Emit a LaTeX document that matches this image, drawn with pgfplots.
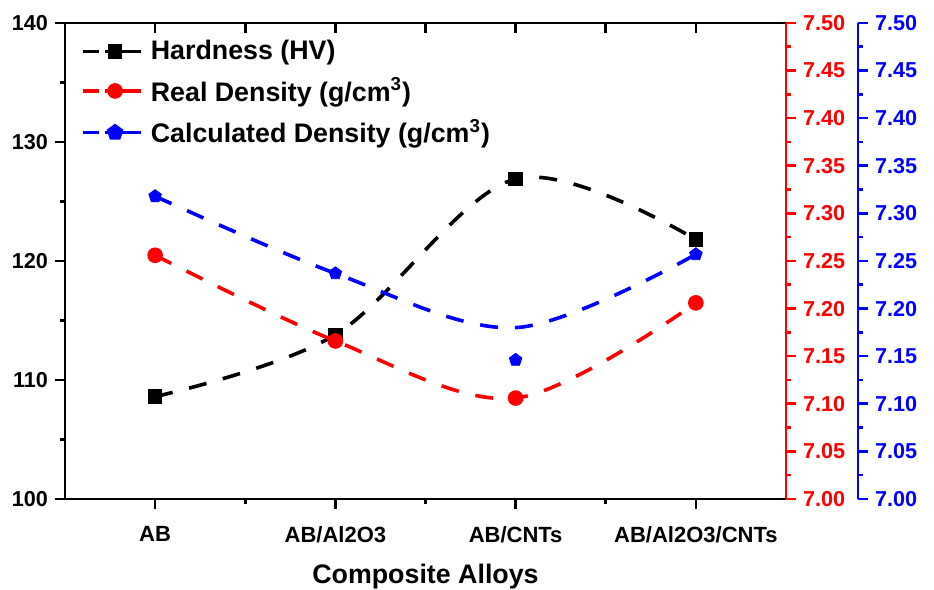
\documentclass[border=0pt]{standalone}
\usepackage{fontspec}
\setmainfont{Liberation Sans}
\usepackage{pgfplots}
\usepackage{pgfplotstable}
\pgfplotsset{compat=1.18}

% x: category index; calcline = where the fitted blue curve runs
\pgfplotstableread{
x hv    real  calc  calcline
0 108.6 7.256 7.318 7.318
1 113.8 7.166 7.237 7.237
2 126.9 7.106 7.146 7.180
3 121.8 7.206 7.257 7.257
}\alloys

\pgfplotsset{
  base/.style={
    scale only axis, width=360.5pt, height=238pt,
    xmin=-0.5, xmax=3.5,
    axis line style={line width=1.4pt},
    every tick/.style={line width=1.3pt},
    major tick length=5pt, minor tick length=2.5pt,
    ticklabel style={font=\bfseries\fontsize{10.8}{12}\selectfont},
    /pgf/number format/assume math mode=true,
  },
  dens/.style={
    ymin=7, ymax=7.5,
    ytick={7,7.05,7.1,7.15,7.2,7.25,7.3,7.35,7.4,7.45,7.5},
    minor ytick={7.025,7.075,7.125,7.175,7.225,7.275,7.325,7.375,7.425,7.475},
    yticklabel style={/pgf/number format/fixed,
      /pgf/number format/fixed zerofill,
      /pgf/number format/precision=2},
    axis x line=none, axis y line*=right, tick align=outside,
  },
  curve/.style={line width=1.8pt, dash pattern=on 9pt off 8.5pt, smooth, tension=0.55},
}

\begin{document}
\begin{tikzpicture}
\useasboundingbox (-32.5pt,-45.5pt) rectangle (434.5pt,249.5pt);

% left axis: hardness
\begin{axis}[base, at={(0,0)},
  axis x line*=bottom, axis y line*=left, tick align=outside,
  xtick={0,1,2,3},
  xticklabels={AB,AB/Al2O3,AB/CNTs,AB/Al2O3/CNTs},
  minor xtick={0.5,1.5,2.5},
  xticklabel style={font=\bfseries\fontsize{11}{13}\selectfont, yshift=-5pt},
  ymin=100, ymax=140, ytick={100,110,...,140},
  minor ytick={105,115,125,135},
  xlabel={Composite Alloys},
  xlabel style={font=\bfseries\fontsize{13.4}{16}\selectfont,
    at={(axis description cs:0.5,0)}, anchor=center, yshift=-39pt},
  legend style={at={(0.022,0.973)}, anchor=north west, draw=none, fill=none,
    inner sep=0pt, row sep=3.5pt,
    nodes={inner xsep=4pt},
    font=\bfseries\fontsize{13.4}{16}\selectfont},
  legend cell align=left,
  legend image code/.code={
    \draw[solid] (0pt,0pt) -- (8pt,0pt) (11pt,0pt) -- (29pt,0pt);
    \draw[solid] plot[only marks] coordinates {(16pt,0pt)};
  },
]
  \addplot[black, curve, mark=square*, mark size=2.7pt, mark options={solid}]
    table[x=x, y=hv] {\alloys};
  \addlegendentry{Hardness (HV)}
  \addlegendimage{red, line width=1.8pt, mark=*, mark size=3pt}
  \addlegendentry{Real Density (g/cm\textsuperscript{3})}
  \addlegendimage{blue, line width=1.8pt, mark=pentagon*, mark size=3.3pt}
  \addlegendentry{Calculated Density (g/cm\textsuperscript{3})}
\end{axis}

% top frame line with inward ticks
\begin{axis}[base, at={(0,0)},
  axis x line*=top, axis y line=none, tick align=inside,
  xtick={0,1,2,3}, minor xtick={0.5,1.5,2.5}, xticklabels={},
  minor tick length=5pt,
  ymin=0, ymax=1,
]
\end{axis}

% red right axis: real and calculated density
\begin{axis}[base, dens, at={(0,0)},
  y axis line style={red}, ytick style={red},
  yticklabel style={red},
]
  \addplot[red, curve, mark=*, mark size=3pt, mark options={solid}]
    table[x=x, y=real] {\alloys};
  \addplot[blue, curve] table[x=x, y=calcline] {\alloys};
  \addplot[blue, only marks, mark=pentagon*, mark size=3.3pt]
    table[x=x, y=calc] {\alloys};
\end{axis}

% blue right axis, offset
\begin{axis}[base, dens, at={(36pt,0)},
  y axis line style={blue}, ytick style={blue},
  yticklabel style={blue},
]
\end{axis}
\end{tikzpicture}
\end{document}
